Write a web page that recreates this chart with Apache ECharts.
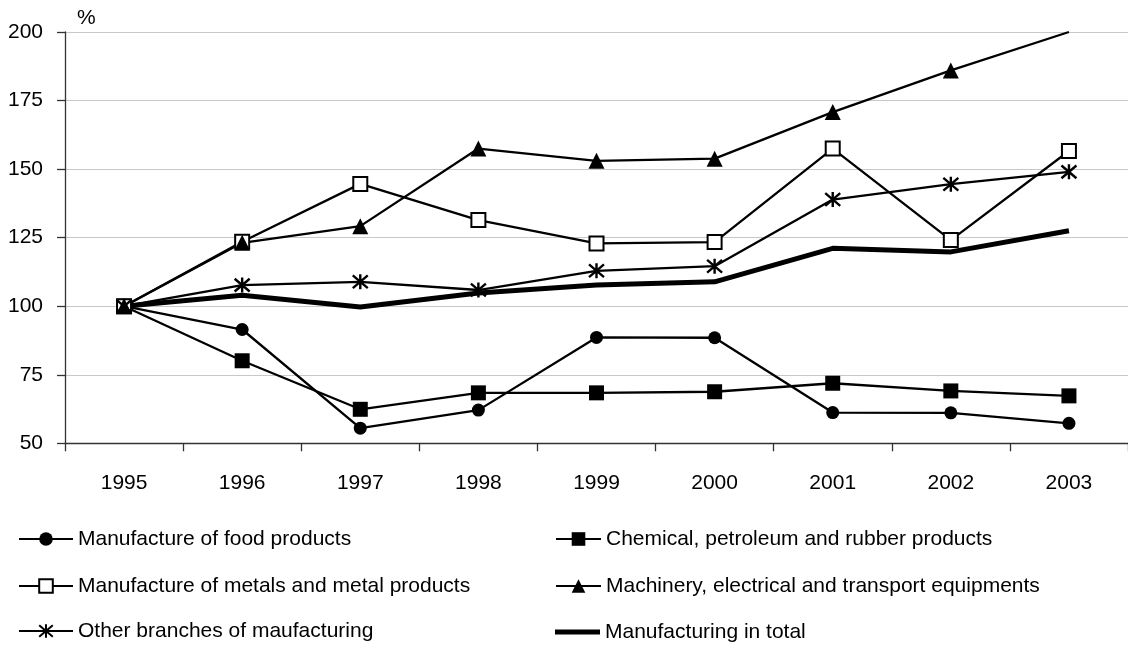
<!DOCTYPE html>
<html>
<head>
<meta charset="utf-8">
<script src="https://cdn.jsdelivr.net/npm/echarts@6/dist/echarts.min.js"></script>
<style>
  html, body { margin: 0; padding: 0; background: #fff; }
  #chart { width: 1128px; height: 646px; }
</style>
</head>
<body>
<div id="chart"></div>
<script>
// Index of manufacturing output by branch, 1995 = 100
const years = ['1995', '1996', '1997', '1998', '1999', '2000', '2001', '2002', '2003'];
const yTicks = { min: 50, max: 200, step: 25 };

const food      = [100, 91.5, 55.5, 62.1, 88.6, 88.5, 61.2, 61.1, 57.3];
const chemical  = [100, 80.1, 62.4, 68.4, 68.4, 68.8, 71.9, 69.1, 67.3];
const metals    = [100, 123.5, 144.6, 131.4, 122.9, 123.4, 157.5, 124.1, 156.6];
const machinery = [100, 123.1, 129.2, 157.5, 153.0, 153.8, 170.8, 186.0, 200];
const other     = [100, 107.7, 108.9, 105.9, 112.9, 114.6, 138.9, 144.5, 149.0];
const total     = [100, 104.0, 99.7, 104.8, 107.7, 108.9, 121.1, 119.8, 127.5];

const names = {
  food: 'Manufacture of food products',
  chemical: 'Chemical, petroleum and rubber products',
  metals: 'Manufacture of metals and metal products',
  machinery: 'Machinery, electrical and transport equipments',
  other: 'Other branches of maufacturing',
  total: 'Manufacturing in total'
};

const FONT = '"Liberation Sans Narrow", "Arial Narrow", "Liberation Sans", Arial, sans-serif';
const INK = '#000';
const asterisk = 'path://M0,-10L0,10M-8.5,-8.5L8.5,8.5M-8.5,8.5L8.5,-8.5';

function lineSeries(name, data, symbol, size, itemStyle, width) {
  return {
    name: name,
    type: 'line',
    data: data,
    symbol: symbol,
    symbolSize: size,
    showSymbol: symbol !== 'none',
    lineStyle: { color: INK, width: width || 2.3 },
    itemStyle: itemStyle,
    emphasis: { disabled: true },
    animation: false
  };
}

// one legend block per entry: two columns, three rows
const legendText = { fontFamily: FONT, fontSize: 21, color: INK, lineHeight: 22 };
function legendEntry(item, left, top, iconWidth, iconHeight) {
  return {
    data: [item],
    left: left, top: top,
    padding: 0,
    itemWidth: iconWidth, itemHeight: iconHeight || 17, itemGap: 0,
    textStyle: legendText,
    selectedMode: false
  };
}

const chart = echarts.init(document.getElementById('chart'), null, { renderer: 'canvas' });

chart.setOption({
  backgroundColor: '#fff',
  animation: false,
  grid: { left: 65, top: 32, width: 1066.5, height: 411.3, containLabel: false },
  xAxis: {
    type: 'category',
    data: years,
    boundaryGap: true,
    axisLine: { lineStyle: { color: '#333', width: 1.3 } },
    axisTick: { show: true, length: 8, inside: false, lineStyle: { color: '#333', width: 1.3 } },
    axisLabel: { fontFamily: FONT, fontSize: 21, color: INK, margin: 29 }
  },
  yAxis: {
    type: 'value',
    min: yTicks.min,
    max: yTicks.max,
    interval: yTicks.step,
    name: '%',
    nameLocation: 'end',
    nameGap: 3,
    nameTextStyle: { fontFamily: FONT, fontSize: 21, color: INK, align: 'left', padding: [0, 0, 0, 12] },
    axisLine: { show: true, lineStyle: { color: '#333', width: 1.3 } },
    axisTick: { show: true, length: 8, inside: false, lineStyle: { color: '#333', width: 1.3 } },
    axisLabel: { fontFamily: FONT, fontSize: 21, color: INK, margin: 22 },
    splitLine: { lineStyle: { color: '#c8c8c8', width: 1.2 } }
  },
  legend: [
    legendEntry(names.food, 18, 528, 54),
    legendEntry(names.metals, 18, 575, 54),
    legendEntry(names.other, 18, 620, 54),
    legendEntry(names.chemical, 555, 528, 45),
    legendEntry(names.machinery, 555, 575, 45),
    legendEntry({ name: names.total, icon: 'rect' }, 555, 621, 45, 5)
  ],
  series: [
    lineSeries(names.total, total, 'none', 0, { color: INK }, 5),
    lineSeries(names.food, food, 'circle', 13, { color: INK }),
    lineSeries(names.chemical, chemical, 'rect', 15, { color: INK }),
    lineSeries(names.metals, metals, 'rect', 14, { color: '#fff', borderColor: INK, borderWidth: 2 }),
    lineSeries(names.machinery,
      machinery.map((v, i) => i === machinery.length - 1 ? { value: v, symbol: 'none' } : v),
      'triangle', 16, { color: INK }),
    lineSeries(names.other, other, asterisk, 15, { color: 'none', borderColor: INK, borderWidth: 2.4 })
  ]
});
</script>
</body>
</html>
